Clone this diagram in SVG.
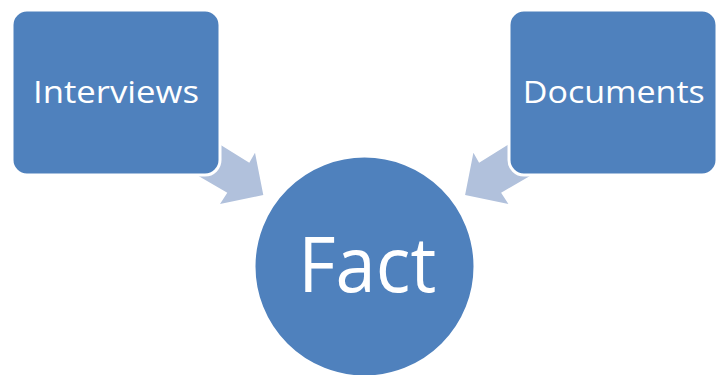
<svg xmlns="http://www.w3.org/2000/svg" width="716" height="375" viewBox="0 0 716 375">
<style>
.box{fill:#4F81BD;stroke:#FFFFFF;stroke-width:3}
.arrow{fill:#B1C1DC}
.lbl{font-family:"Open Sans","Liberation Sans",sans-serif;fill:#FFFFFF;text-anchor:middle}
</style>
<rect width="716" height="375" fill="#FFFFFF"/>
<g id="connectors">
<polygon class="arrow" points="199,131.5 249.3,162.7 255,152.7 263.3,195 220,204 227.3,192.7 183,167"/>
<polygon class="arrow" points="529.4,131.5 479.1,162.7 473.4,152.7 465.1,195 508.4,204 501.1,192.7 545.4,167"/>
</g>
<g id="interviews">
<rect class="box" x="12" y="10" width="208" height="165" rx="15" ry="15"/>
<text class="lbl" x="116" y="102.7" font-size="30.4" textLength="166" lengthAdjust="spacingAndGlyphs">Interviews</text>
</g>
<g id="documents">
<rect class="box" x="509" y="10" width="208" height="165" rx="15" ry="15"/>
<text class="lbl" x="613.8" y="102.7" font-size="30.4" textLength="182" lengthAdjust="spacingAndGlyphs">Documents</text>
</g>
<g id="fact">
<circle cx="364.5" cy="266.5" r="110" fill="#4F81BD" stroke="#FFFFFF" stroke-width="2"/>
<text class="lbl" x="367.2" y="291.7" font-size="76" textLength="138" lengthAdjust="spacingAndGlyphs">Fact</text>
</g>
</svg>
